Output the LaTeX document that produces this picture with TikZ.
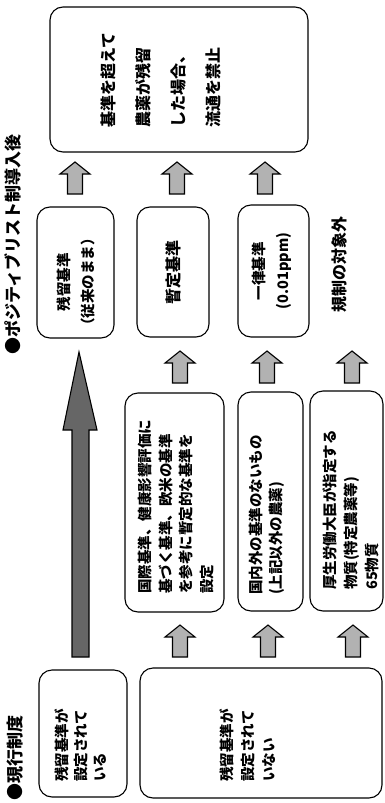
\documentclass[tikz,border=0pt]{standalone}
\usepackage{fontspec}
\setmainfont{Noto Sans CJK JP}
\newcommand{\blockup}[3]{%
  \coordinate (#1) at (#2,#3);
  \begin{scope}[shift={(#1)}]
    \draw[sarrow] (0,-16) -- (15,-4) -- (7.5,-4) -- (7.5,16) -- (-7.5,16) -- (-7.5,-4) -- (-15,-4) -- cycle;
  \end{scope}}
\begin{document}
\begin{tikzpicture}[x=1pt,y=-1pt,
  box/.style={draw, line width=1.1pt, rounded corners=13pt, inner sep=0pt},
  vt/.style={rotate=90, inner sep=0pt, align=left, font=\bfseries\fontsize{14.5}{#1}\selectfont},
  vt/.default=20.5,
  vc/.style={rotate=90, inner sep=0pt, align=center, font=\bfseries\fontsize{14.5}{#1}\selectfont},
  vc/.default=24,
  vcb/.style={rotate=90, inner sep=0pt, align=center, font=\bfseries\fontsize{16}{24}\selectfont},
  hd/.style={rotate=90, inner sep=0pt, font=\bfseries\fontsize{17}{20}\selectfont},
  sarrow/.style={draw, line width=1.1pt, fill=black!30, line join=miter},
  barrow/.style={draw, line width=1.1pt, fill=black!60, line join=miter}]
\fill[white] (0,0) rectangle (385,803);
\useasboundingbox (0,0) rectangle (385,803);

% headings
\node[hd, anchor=west] (h1) at (15,801) {●現行制度};
\node[hd, anchor=west] (h2) at (13,355) {●ポジティブリスト制導入後};

% column 1 boxes
\node[box, minimum width=88pt, minimum height=127pt] (bA) at (83,733.5) {};
\node[box, minimum width=242pt, minimum height=130pt] (bB) at (261,733) {};
\node[vt=19, anchor=west] (tA) at (81,782) {残留基準が\\設定されて\\いる};
\node[vt=21, anchor=west] (tB) at (248,782) {残留基準が\\設定されて\\いない};

% column 3 boxes
\node[box, minimum width=99pt, minimum height=219pt] (c1) at (174.5,502.5) {};
\node[box, minimum width=65pt, minimum height=219pt] (c2) at (270.5,501.5) {};
\node[box, minimum width=73pt, minimum height=220pt] (c3) at (346.5,501) {};
\node[vt=20.7, anchor=west] (tc1) at (176,594) {国際基準、健康影響評価に\\基づく基準、欧米の基準\\を参考に暫定的な基準を\\設定};
\node[vt=20, anchor=west] (tc2) at (267,595) {国内外の基準のないもの\\(上記以外の農薬)};
\node[vt=21, anchor=west] (tc3) at (351,590) {厚生労働大臣が指定する\\物質(特定農薬等)\\65物質};

% column 5 boxes
\node[box, minimum width=77pt, minimum height=131pt] (d1) at (75.5,272.5) {};
\node[box, minimum width=72pt, minimum height=130pt] (d2) at (173,272) {};
\node[box, minimum width=71pt, minimum height=132pt] (d3) at (273.5,271) {};
\node[vc=24] (td1) at (76,282) {残留基準\\（従来のまま）};
\node[vcb] (td2) at (173,272) {暫定基準};
\node[vc=24] (td3) at (272,271) {一律基準\\(0.01ppm)};
\node[vcb] (td4) at (339,264) {規制の対象外};

% column 7 box
\node[box, minimum width=258pt, minimum height=145pt] (e) at (179,79.5) {};
\node[rotate=90, inner sep=0pt, align=left, font=\bfseries\fontsize{16}{35}\selectfont, anchor=west] (te) at (161,128) {基準を超えて\\農薬が残留\\した場合、\\流通を禁止};

% big arrow
\draw[barrow] (79,352) -- (97,430) -- (89,430) -- (89,657) -- (72,657) -- (72,430) -- (63,430) -- cycle;

% small block arrows
\blockup{a21}{180}{641}
\blockup{a22}{268}{641}
\blockup{a23}{353}{641}
\blockup{a41}{180}{367}
\blockup{a42}{267}{367}
\blockup{a43}{352}{367}
\blockup{a61}{75}{178}
\blockup{a62}{177}{178}
\blockup{a63}{265}{178}
\end{tikzpicture}
\end{document}
